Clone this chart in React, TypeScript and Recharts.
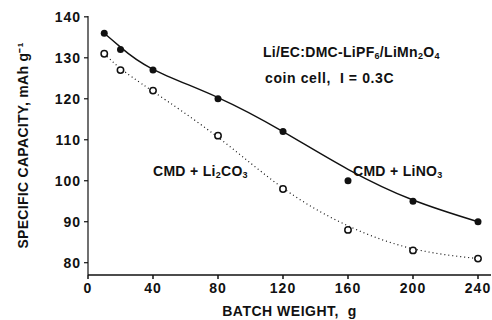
import React from 'react';
import { LineChart, Line, XAxis, YAxis } from 'recharts';

const weights = [10, 20, 40, 80, 120, 160, 200, 240];
const lino3 = [136, 132, 127, 120, 112, 100, 95, 90];
const lino3Fit = [136, 132.6, 127.2, 120.3, 112, 102.8, 95.3, 90];
const li2co3 = [131, 127, 122, 111, 98, 88, 83, 81];
const li2co3Fit = [131, 127.4, 121.8, 110.6, 98.2, 89, 83.4, 81];
const xTicks = [0, 40, 80, 120, 160, 200, 240];
const yTicks = [80, 90, 100, 110, 120, 130, 140];

const data = weights.map((w, i) => ({
  weight: w,
  lino3: lino3[i],
  lino3Fit: lino3Fit[i],
  li2co3: li2co3[i],
  li2co3Fit: li2co3Fit[i],
}));

const INK = '#111';
const font = '"Liberation Sans", Arial, sans-serif';

const tickStyle = { fontSize: 14, fontWeight: 700, fill: INK, fontFamily: font, letterSpacing: 1 };

const note: React.CSSProperties = {
  position: 'absolute',
  fontFamily: font,
  fontWeight: 700,
  fontSize: 14,
  lineHeight: '16px',
  letterSpacing: 0.3,
  color: INK,
  whiteSpace: 'nowrap',
};

const sub: React.CSSProperties = { fontSize: 9, verticalAlign: -2 };

const FilledDot = (props: any) => <circle cx={props.cx} cy={props.cy} r={3.5} fill={INK} />;
const OpenDot = (props: any) => (
  <circle cx={props.cx} cy={props.cy} r={3.2} fill="#fff" stroke={INK} strokeWidth={1.5} />
);

const App: React.FC = () => {
  return (
    <div style={{ position: 'absolute', left: 0, top: 0, width: 492, height: 320, background: '#fff' }}>
      <LineChart width={492} height={320} data={data} margin={{ top: 16, right: 1, left: 0, bottom: 0 }}>
        <XAxis
          dataKey="weight"
          type="number"
          domain={[0, 248]}
          ticks={xTicks}
          allowDataOverflow
          height={45}
          stroke={INK}
          strokeWidth={1.5}
          tickSize={4}
          tickMargin={4}
          tick={tickStyle}
          label={{
            value: 'BATCH WEIGHT,\u00a0 g',
            position: 'insideBottom',
            offset: 4,
            style: { fontSize: 14, fontWeight: 700, fill: INK, fontFamily: font, letterSpacing: 0.5 },
          }}
        />
        <XAxis xAxisId="top" dataKey="weight" type="number" domain={[0, 248]} orientation="top" height={0} tick={false} tickLine={false} stroke={INK} strokeWidth={1.5} />
        <YAxis
          type="number"
          domain={[77, 140.2]}
          ticks={yTicks}
          allowDataOverflow
          width={88}
          stroke={INK}
          strokeWidth={1.2}
          tickSize={4}
          tickMargin={3}
          tick={tickStyle}
          label={{
            value: 'SPECIFIC CAPACITY,  mAh g\u207b\u00b9',
            angle: -90,
            position: 'center',
            dx: -21,
            style: { fontSize: 14, fontWeight: 700, fill: INK, fontFamily: font, textAnchor: 'middle', letterSpacing: 0.3 },
          }}
        />
        <Line type="natural" dataKey="lino3Fit" stroke={INK} strokeWidth={1.4} dot={false} isAnimationActive={false} />
        <Line type="natural" dataKey="li2co3Fit" stroke={INK} strokeWidth={1.2} strokeDasharray="1 3" dot={false} isAnimationActive={false} />
        <Line dataKey="lino3" stroke="none" dot={<FilledDot />} activeDot={false} isAnimationActive={false} />
        <Line dataKey="li2co3" stroke="none" dot={<OpenDot />} activeDot={false} isAnimationActive={false} />
      </LineChart>
      <div style={{ ...note, left: 263, top: 44 }}>
        Li/EC:DMC-LiPF<span style={sub}>6</span>/LiMn<span style={sub}>2</span>O<span style={sub}>4</span>
      </div>
      <div style={{ ...note, left: 265, top: 70, letterSpacing: 0.6 }}>coin cell,&nbsp; I = 0.3C</div>
      <div style={{ ...note, left: 153, top: 163 }}>
        CMD + Li<span style={sub}>2</span>CO<span style={sub}>3</span>
      </div>
      <div style={{ ...note, left: 353, top: 163 }}>
        CMD + LiNO<span style={sub}>3</span>
      </div>
    </div>
  );
};

export default App;
